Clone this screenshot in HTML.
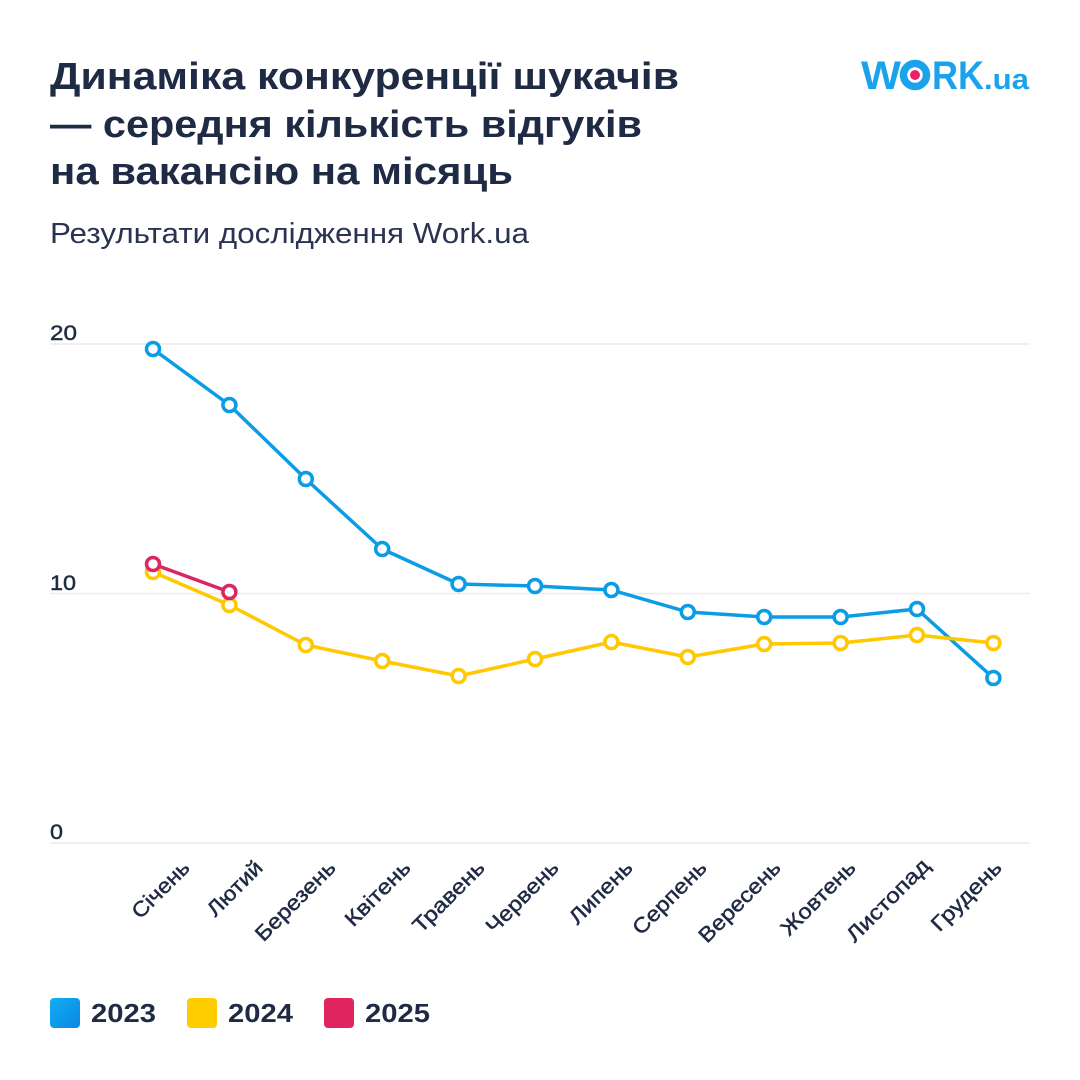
<!DOCTYPE html>
<html>
<head>
<meta charset="utf-8">
<style>
  html, body { margin:0; padding:0; background:#ffffff; }
  body { width:1080px; height:1080px; overflow:hidden; }
  svg { display:block; }
  .t { font-family:"Liberation Sans","DejaVu Sans",sans-serif; fill:#1f2a44; }
  .m { stroke:#1f2a44; stroke-width:0.45; }
</style>
</head>
<body>
<svg width="1080" height="1080" viewBox="0 0 1080 1080" xmlns="http://www.w3.org/2000/svg">
  <defs>
    <linearGradient id="bg23" x1="0" y1="0" x2="1" y2="1">
      <stop offset="0" stop-color="#12aef0"/>
      <stop offset="1" stop-color="#0a86e6"/>
    </linearGradient>
  </defs>
  <rect width="1080" height="1080" fill="#ffffff"/>

  <!-- Title -->
  <text class="t" x="50" y="89" font-size="38" font-weight="bold" textLength="629" lengthAdjust="spacingAndGlyphs">Динаміка конкуренції шукачів</text>
  <text class="t" x="50" y="137" font-size="38" font-weight="bold" textLength="592" lengthAdjust="spacingAndGlyphs">— середня кількість відгуків</text>
  <text class="t" x="50" y="184" font-size="38" font-weight="bold" textLength="463" lengthAdjust="spacingAndGlyphs">на вакансію на місяць</text>
  <text class="t" x="50" y="243" font-size="29" textLength="479" lengthAdjust="spacingAndGlyphs" style="fill:#2a3450">Результати дослідження Work.ua</text>

  <!-- Logo -->
  <g fill="#1aa3ea" font-family="Liberation Sans, DejaVu Sans, sans-serif" font-weight="bold">
    <text x="861" y="89" font-size="40" textLength="40" lengthAdjust="spacingAndGlyphs">W</text>
    <circle cx="915" cy="75" r="11.5" fill="none" stroke="#1aa3ea" stroke-width="7.5"/>
    <circle cx="915" cy="75" r="5" fill="#e8236a"/>
    <text x="932" y="89" font-size="40" textLength="52" lengthAdjust="spacingAndGlyphs">RK</text>
    <text x="984" y="89" font-size="29" textLength="45" lengthAdjust="spacingAndGlyphs">.ua</text>
  </g>

  <!-- Grid -->
  <g stroke="#ececec" stroke-width="1.5">
    <line x1="50" y1="344" x2="1030" y2="344"/>
    <line x1="50" y1="593.5" x2="1030" y2="593.5"/>
    <line x1="50" y1="843" x2="1030" y2="843"/>
  </g>
  <g class="t m" font-size="21">
    <text x="50" y="340" textLength="27" lengthAdjust="spacingAndGlyphs">20</text>
    <text x="50" y="590" textLength="26" lengthAdjust="spacingAndGlyphs">10</text>
    <text x="50" y="839" textLength="13" lengthAdjust="spacingAndGlyphs">0</text>
  </g>

  <!-- Month labels -->
  <g class="t m" font-size="21" text-anchor="end">
    <text transform="translate(191,869) rotate(-45)" textLength="72" lengthAdjust="spacingAndGlyphs">Січень</text>
    <text transform="translate(264,869) rotate(-45)" textLength="69" lengthAdjust="spacingAndGlyphs">Лютий</text>
    <text transform="translate(337,869) rotate(-45)" textLength="104" lengthAdjust="spacingAndGlyphs">Березень</text>
    <text transform="translate(412,869) rotate(-45)" textLength="83" lengthAdjust="spacingAndGlyphs">Квітень</text>
    <text transform="translate(486,869) rotate(-45)" textLength="92" lengthAdjust="spacingAndGlyphs">Травень</text>
    <text transform="translate(560,869) rotate(-45)" textLength="93" lengthAdjust="spacingAndGlyphs">Червень</text>
    <text transform="translate(634,869) rotate(-45)" textLength="80" lengthAdjust="spacingAndGlyphs">Липень</text>
    <text transform="translate(708,869) rotate(-45)" textLength="95" lengthAdjust="spacingAndGlyphs">Серпень</text>
    <text transform="translate(782,869) rotate(-45)" textLength="106" lengthAdjust="spacingAndGlyphs">Вересень</text>
    <text transform="translate(857,869) rotate(-45)" textLength="96" lengthAdjust="spacingAndGlyphs">Жовтень</text>
    <text transform="translate(931,867) rotate(-45)" textLength="108" lengthAdjust="spacingAndGlyphs">Листопад</text>
    <text transform="translate(1003,869) rotate(-45)" textLength="90" lengthAdjust="spacingAndGlyphs">Грудень</text>
  </g>

  <!-- 2023 blue -->
  <g stroke="#0a9de6" stroke-width="3.5" fill="none" stroke-linejoin="round">
    <polyline points="153,349 229.4,405 305.8,479 382.2,549 458.6,584 535,586 611.4,590 687.8,612 764.2,617 840.6,617 917,609 993.4,678"/>
  </g>
  <g stroke="#0a9de6" stroke-width="3.5" fill="#ffffff">
    <circle cx="153" cy="349" r="6.5"/>
    <circle cx="229.4" cy="405" r="6.5"/>
    <circle cx="305.8" cy="479" r="6.5"/>
    <circle cx="382.2" cy="549" r="6.5"/>
    <circle cx="458.6" cy="584" r="6.5"/>
    <circle cx="535" cy="586" r="6.5"/>
    <circle cx="611.4" cy="590" r="6.5"/>
    <circle cx="687.8" cy="612" r="6.5"/>
    <circle cx="764.2" cy="617" r="6.5"/>
    <circle cx="840.6" cy="617" r="6.5"/>
    <circle cx="917" cy="609" r="6.5"/>
    <circle cx="993.4" cy="678" r="6.5"/>
  </g>

  <!-- 2024 yellow -->
  <g stroke="#ffc800" stroke-width="3.5" fill="none" stroke-linejoin="round">
    <polyline points="153,572 229.4,605 305.8,645 382.2,661 458.6,676 535,659 611.4,642 687.8,657 764.2,644 840.6,643 917,635 993.4,643"/>
  </g>
  <g stroke="#ffc800" stroke-width="3.5" fill="#ffffff">
    <circle cx="153" cy="572" r="6.5"/>
    <circle cx="229.4" cy="605" r="6.5"/>
    <circle cx="305.8" cy="645" r="6.5"/>
    <circle cx="382.2" cy="661" r="6.5"/>
    <circle cx="458.6" cy="676" r="6.5"/>
    <circle cx="535" cy="659" r="6.5"/>
    <circle cx="611.4" cy="642" r="6.5"/>
    <circle cx="687.8" cy="657" r="6.5"/>
    <circle cx="764.2" cy="644" r="6.5"/>
    <circle cx="840.6" cy="643" r="6.5"/>
    <circle cx="917" cy="635" r="6.5"/>
    <circle cx="993.4" cy="643" r="6.5"/>
  </g>

  <!-- 2025 red -->
  <polyline points="153,564 229.4,592" stroke="#dc2662" stroke-width="3.5" fill="none"/>
  <g stroke="#dc2662" stroke-width="3.5" fill="#ffffff">
    <circle cx="153" cy="564" r="6.5"/>
    <circle cx="229.4" cy="592" r="6.5"/>
  </g>

  <!-- Legend -->
  <rect x="50" y="998" width="30" height="30" rx="4" fill="url(#bg23)"/>
  <text class="t" x="91" y="1022" font-size="26" font-weight="bold" textLength="65" lengthAdjust="spacingAndGlyphs">2023</text>
  <rect x="187" y="998" width="30" height="30" rx="4" fill="#ffcc00"/>
  <text class="t" x="228" y="1022" font-size="26" font-weight="bold" textLength="65" lengthAdjust="spacingAndGlyphs">2024</text>
  <rect x="324" y="998" width="30" height="30" rx="4" fill="#e0245f"/>
  <text class="t" x="365" y="1022" font-size="26" font-weight="bold" textLength="65" lengthAdjust="spacingAndGlyphs">2025</text>
</svg>
</body>
</html>
